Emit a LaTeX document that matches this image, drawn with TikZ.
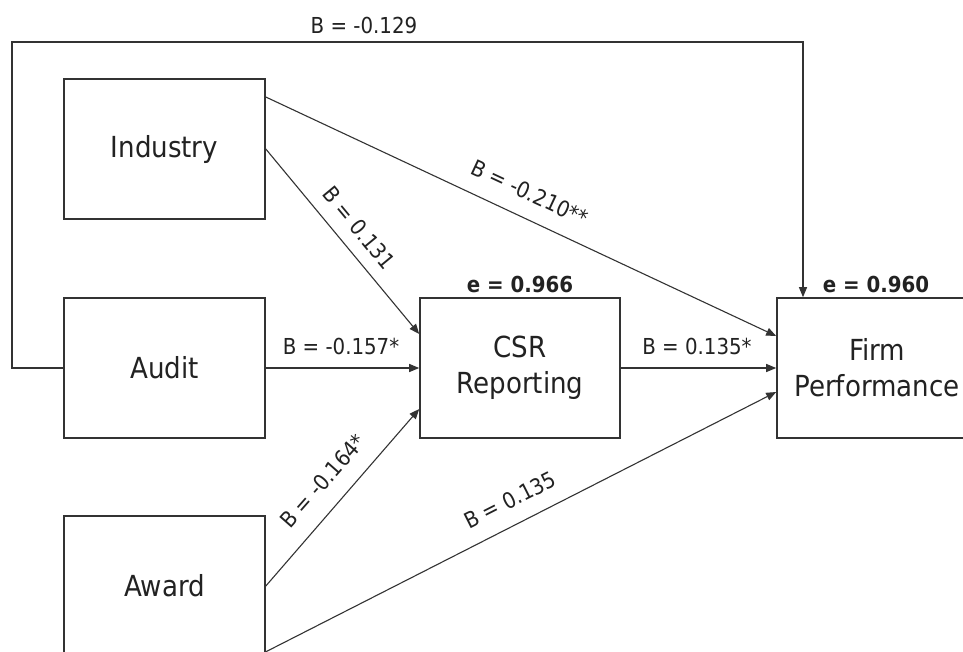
\documentclass[tikz,border=0pt]{standalone}
\usepackage{fontspec}
\setmainfont{DejaVu Sans Condensed}
\usetikzlibrary{arrows.meta}
\definecolor{ink}{HTML}{222222}
\definecolor{linec}{HTML}{333333}
\tikzset{
  box/.style={draw=linec, line width=1.6pt, minimum width=201pt, minimum height=140pt, inner sep=0pt, align=center, font=\fontsize{29}{36}\selectfont, text=ink},
  arr/.style={draw=linec, line width=1.1pt, -{Triangle[length=10pt,width=8pt]}},
  lbl/.style={font=\fontsize{22}{24}\selectfont, text=ink, inner sep=0pt},
  elbl/.style={font=\bfseries\fontsize{22}{24}\selectfont, text=ink, inner sep=0pt}
}
\begin{document}
\begin{tikzpicture}[x=1pt,y=-1pt]
\clip (0,0) rectangle (963,651);
\useasboundingbox (0,0) rectangle (963,651);
\fill[white] (0,0) rectangle (963,651);
% boxes
\node[box] (Industry) at (164.5,149) {Industry};
\node[box] (Audit) at (164.5,368) {Audit};
\node[box] (Award) at (164.5,586) {Award};
\node[box, minimum width=200pt] (CSR) at (520,368) {CSR\\Reporting};
\node[box, minimum width=200pt] (Firm) at (877,368) {Firm\\Performance};
% loop coordinates
\coordinate (L1) at (12,42);
\coordinate (R1) at (803,42);
% connectors
\draw[arr] (Audit.west) -| (L1) -- (R1) -- (R1 |- Firm.north);
\draw[arr] (Industry.east) -- ([yshift=34pt]CSR.west);
\draw[arr] (Audit.east) -- (CSR.west);
\draw[arr] (Award.east) -- ([yshift=-41pt]CSR.west);
\draw[arr] ([yshift=52pt]Industry.east) -- ([yshift=32pt]Firm.west);
\draw[arr] (CSR.east) -- (Firm.west);
\draw[arr] ([yshift=5pt]Award.south east) -- ([yshift=-24pt]Firm.west);
% labels
\node[lbl] (l129) at (364,25) {B = -0.129};
\node[lbl, rotate=-50.4] (l131) at (359,228) {B = 0.131};
\node[lbl, rotate=-25] (l210) at (530,193) {B = -0.210**};
\node[lbl] (l157) at (341,346) {B = -0.157*};
\node[lbl, rotate=48.6] (l164) at (323,481) {B = -0.164*};
\node[lbl] (l135s) at (697,346) {B = 0.135*};
\node[lbl, rotate=26.8] (l135) at (510,500) {B = 0.135};
\node[elbl] (e966) at (520,284) {e = 0.966};
\node[elbl] (e960) at (876,284) {e = 0.960};
\end{tikzpicture}
\end{document}
